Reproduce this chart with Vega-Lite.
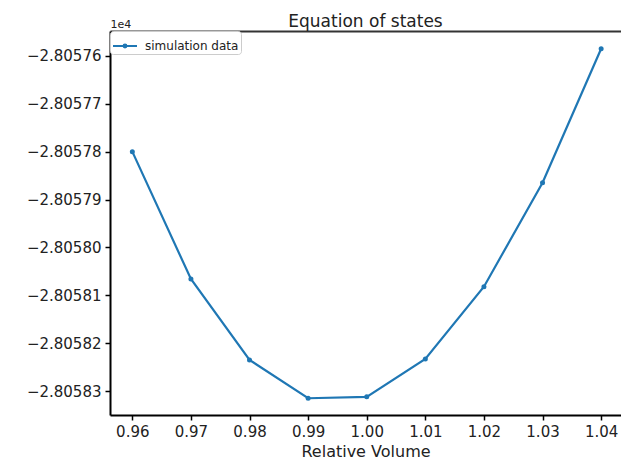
{
  "$schema": "https://vega.github.io/schema/vega-lite/v6.json",
  "width": 511,
  "height": 384,
  "autosize": {"type": "none"},
  "padding": {"left": 110, "top": 31, "right": 0, "bottom": 44},
  "config": {
    "font": "DejaVu Sans",
    "view": {"stroke": null},
    "axis": {"domainColor": "black", "domainWidth": 2, "tickColor": "black", "tickWidth": 1.5, "tickSize": 5, "labelColor": "#222", "labelFontSize": 15, "titleFontWeight": "normal", "titleColor": "#222", "grid": false}
  },
  "title": {"text": "Equation of states", "fontSize": 17, "fontWeight": "normal", "color": "#222", "anchor": "middle", "offset": 6, "dy": 19},
  "data": {
    "values": [
      {"volume": 0.96, "energy": -28057.800, "series": "simulation data"},
      {"volume": 0.97, "energy": -28058.066, "series": "simulation data"},
      {"volume": 0.98, "energy": -28058.235, "series": "simulation data"},
      {"volume": 0.99, "energy": -28058.315, "series": "simulation data"},
      {"volume": 1.00, "energy": -28058.312, "series": "simulation data"},
      {"volume": 1.01, "energy": -28058.233, "series": "simulation data"},
      {"volume": 1.02, "energy": -28058.082, "series": "simulation data"},
      {"volume": 1.03, "energy": -28057.865, "series": "simulation data"},
      {"volume": 1.04, "energy": -28057.585, "series": "simulation data"}
    ]
  },
  "layer": [
    {
      "mark": {"type": "line", "strokeWidth": 2.2, "point": {"filled": true, "size": 25}},
      "encoding": {
        "x": {
          "field": "volume", "type": "quantitative",
          "scale": {"domain": [0.95619, 1.04339], "nice": false, "zero": false},
          "axis": {"values": [0.96, 0.97, 0.98, 0.99, 1.0, 1.01, 1.02, 1.03, 1.04], "format": ".2f", "title": "Relative Volume", "titleFontSize": 16, "labelPadding": 4, "titlePadding": 4}
        },
        "y": {
          "field": "energy", "type": "quantitative",
          "scale": {"domain": [-28058.350, -28057.548], "nice": false, "zero": false},
          "axis": {
            "values": [-28057.6, -28057.7, -28057.8, -28057.9, -28058.0, -28058.1, -28058.2, -28058.3],
            "labelExpr": "format(datum.value / 10000, '.5f')",
            "title": "1e4", "titleAngle": 0, "titleX": 0, "titleY": -2, "titleAlign": "left", "titleBaseline": "bottom", "titleFontSize": 11, "labelPadding": 4
          }
        },
        "color": {
          "field": "series", "type": "nominal",
          "scale": {"range": ["#1f77b4"]},
          "legend": {
            "orient": "top-left", "offset": 0, "title": null, "labelFontSize": 12, "labelColor": "#222", "padding": 2,
            "strokeColor": "#cccccc", "fillColor": "white", "cornerRadius": 3,
            "symbolType": "M-1,0H1M-0.12,0A0.12,0.12 0 1 1 0.12,0A0.12,0.12 0 1 1 -0.12,0",
            "symbolSize": 576, "symbolStrokeWidth": 2, "labelOffset": 7
          }
        }
      }
    },
    {
      "mark": {"type": "point", "opacity": 0},
      "encoding": {
        "x": {
          "field": "volume", "type": "quantitative",
          "axis": {"orient": "top", "labels": false, "ticks": false, "title": null, "domainColor": "#333"}
        }
      }
    }
  ],
  "resolve": {"axis": {"x": "independent"}}
}
